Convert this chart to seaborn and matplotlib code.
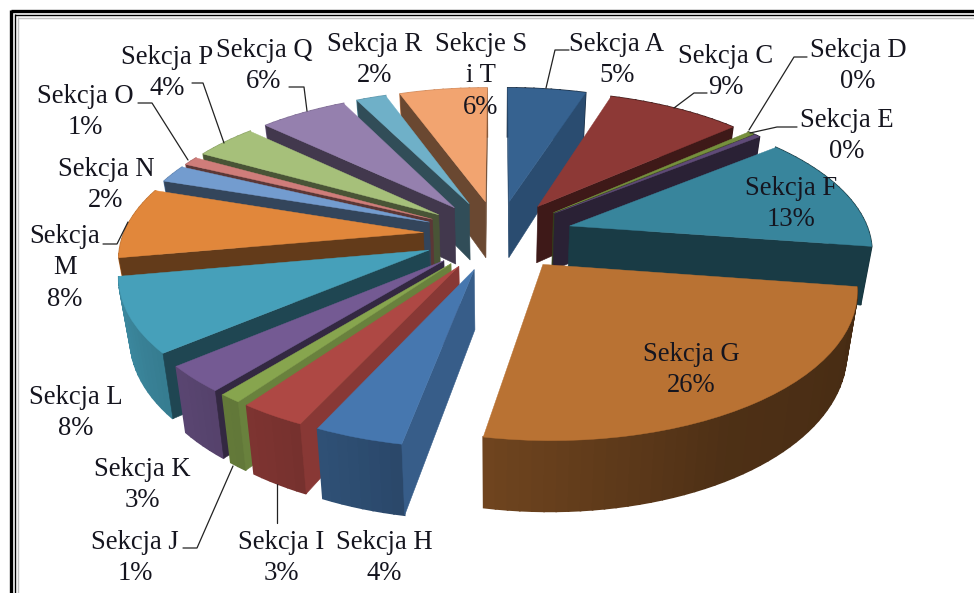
import numpy as np
import seaborn as sns
import matplotlib
matplotlib.use('Agg')
import matplotlib.pyplot as plt
from matplotlib.transforms import Transform

# sections, clockwise from the top
sections = ['Sekcja A', 'Sekcja C', 'Sekcja D', 'Sekcja E', 'Sekcja F', 'Sekcja G', 'Sekcja H', 'Sekcja I', 'Sekcja J',
            'Sekcja K', 'Sekcja L', 'Sekcja\nM', 'Sekcja N', 'Sekcja O', 'Sekcja P', 'Sekcja Q', 'Sekcja R', 'Sekcje S\ni T']
values = [5, 8.6, 0.4, 0.4, 13.2, 25.9, 4, 3, 1, 3, 8.4, 8, 2, 1, 4, 5.6, 1.9, 5.6]
percents = ['5%', '9%', '0%', '0%', '13%', '26%', '4%', '3%', '1%', '3%', '8%', '8%', '2%', '1%', '4%', '6%', '2%', '6%']
colors = ['#366290', '#8d3936', '#76903d', '#5f4a78', '#38859c', '#b97233', '#4677af', '#ae4844', '#87a54e',
          '#745a93', '#46a0ba', '#e1873b', '#739ccf', '#cf7d7a', '#a6c07a', '#9580ae', '#6fb0c8', '#f2a470']
label_x = [617, 726, 858, 847, 791, 691, 384, 281, 135, 142, 76, 65, 106, 85, 167, 264, 375, 481]
label_y = [60, 72, 66, 136, 204, 370, 558, 558, 558, 485, 413, 268, 185, 112, 73, 66, 60, 76]

# leader lines in picture pixels
leaders = [[(546, 88), (555, 50), (569, 50)], [(674, 108), (694, 93), (707, 93)],
           [(749, 130), (794, 57), (807, 57)], [(750, 133), (777, 127), (797, 127)],
           [(307, 111), (304, 87), (289, 87)], [(224, 143), (203, 83), (192, 83)],
           [(188, 160), (152, 103), (138, 103)], [(128, 222), (117, 244), (103, 244)],
           [(233, 466), (197, 548), (183, 548)], [(277, 484), (277, 523)]]

CX, CY, RX, RY, K, DEPTH = 498, 235, 300, 140, 0.15, 58
EXPLODE = 0.25


def project(u, v, z=0.0):
    # pie plane to picture pixels, nearer parts come out bigger
    w = -np.asarray(v, dtype=float)
    s = 1 / (1 - K * w)
    return CX + RX * np.asarray(u) * (1 - 0.03 * z) * s, CY + (RY * w + DEPTH * z) * s


class TiltTransform(Transform):
    input_dims = output_dims = 2

    def transform_non_affine(self, values):
        x, y = project(values[:, 0], values[:, 1])
        return np.column_stack([x, y])


def shade(color, f):
    return tuple(np.array(matplotlib.colors.to_rgb(color)) * f)


sns.set_theme(style='white')
plt.rcParams['font.family'] = ['Liberation Serif', 'DejaVu Serif']

fig = plt.figure(figsize=(9.74, 5.93), dpi=100)
ax = fig.add_axes([0, 0, 1, 1])

wedges, _ = ax.pie(values, colors=colors, startangle=90, counterclock=False, explode=[EXPLODE] * len(values),
                   wedgeprops={'linewidth': 0})
ax.set_aspect('auto')
ax.set_xlim(0, 974)
ax.set_ylim(593, 0)
ax.axis('off')

tilt = TiltTransform()
for i, wd in enumerate(wedges):
    cx, cy = wd.center
    t1, t2 = np.radians(wd.theta1), np.radians(wd.theta2)
    tm = (t1 + t2) / 2
    # back slices first
    order = 10 + (-cy - np.sin(tm) * 0.6) * 10
    wd.set_transform(tilt + ax.transData)
    wd.set_zorder(order + 0.3)
    wd.set_edgecolor(colors[i])
    wd.set_linewidth(0.3)

    # outer rim as thin strips, lit from the lower left
    th = np.linspace(t1, t2, max(int(np.degrees(t2 - t1) / 2) + 2, 3))
    for a, b in zip(th[:-1], th[1:]):
        cw = (90 - np.degrees((a + b) / 2)) % 360
        f = np.interp(cw, [100, 150, 190, 210, 250, 270], [0.38, 0.42, 0.6, 0.7, 0.85, 0.85])
        ua, va = cx + np.cos(a), cy + np.sin(a)
        ub, vb = cx + np.cos(b), cy + np.sin(b)
        xs = [project(ua, va, 0)[0], project(ub, vb, 0)[0], project(ub, vb, 1)[0], project(ua, va, 1)[0]]
        ys = [project(ua, va, 0)[1], project(ub, vb, 0)[1], project(ub, vb, 1)[1], project(ua, va, 1)[1]]
        ax.fill(xs, ys, color=shade(colors[i], f), lw=1.2, zorder=order)

    # radial faces, only the ones that look at the viewer
    mx, my = project(cx + 0.6 * np.cos(tm), cy + 0.6 * np.sin(tm))
    ax0, ay0 = project(cx, cy)
    for t in (t1, t2):
        rx, ry = project(cx + np.cos(t), cy + np.sin(t))
        if abs(rx - ax0) < 1:
            continue
        if my < ay0 + (ry - ay0) / (rx - ax0) * (mx - ax0):
            steep = abs(ry - ay0) > 0.6 * abs(rx - ax0)
            back_left = np.cos(t) < 0 and np.sin(t) > 0
            f = 0.78 if steep and not back_left else 0.44
            bx0, by0 = project(cx, cy, 1)
            bx1, by1 = project(cx + np.cos(t), cy + np.sin(t), 1)
            ax.fill([ax0, rx, bx1, bx0], [ay0, ry, by1, by0], color=shade(colors[i], f), lw=0.4, zorder=order + 0.1)

for line in leaders:
    ax.plot(*zip(*line), color='#222222', lw=0.9, zorder=50)

for name, pct, x, y in zip(sections, percents, label_x, label_y):
    ax.text(x, y, name + '\n' + pct, ha='center', va='center', fontsize=19.2, color='#15151f', linespacing=1.33, zorder=60)

# double frame, only top and left are in the crop
ax.plot([11, 974], [11, 11], color='black', lw=2.4, zorder=70, solid_capstyle='butt')
ax.plot([11, 11], [9.8, 593], color='black', lw=2.4, zorder=70, solid_capstyle='butt')
ax.plot([14.5, 974], [14.7, 14.7], color='black', lw=1.0, zorder=70, solid_capstyle='butt')
ax.plot([14.5, 14.5], [14.2, 593], color='black', lw=1.0, zorder=70, solid_capstyle='butt')
ax.plot([17.5, 974], [17.5, 17.5], color='#c4c4c4', lw=1.0, zorder=70, solid_capstyle='butt')
ax.plot([17.5, 17.5], [17, 593], color='#c4c4c4', lw=1.0, zorder=70, solid_capstyle='butt')

fig.savefig('out.png', dpi=100)
